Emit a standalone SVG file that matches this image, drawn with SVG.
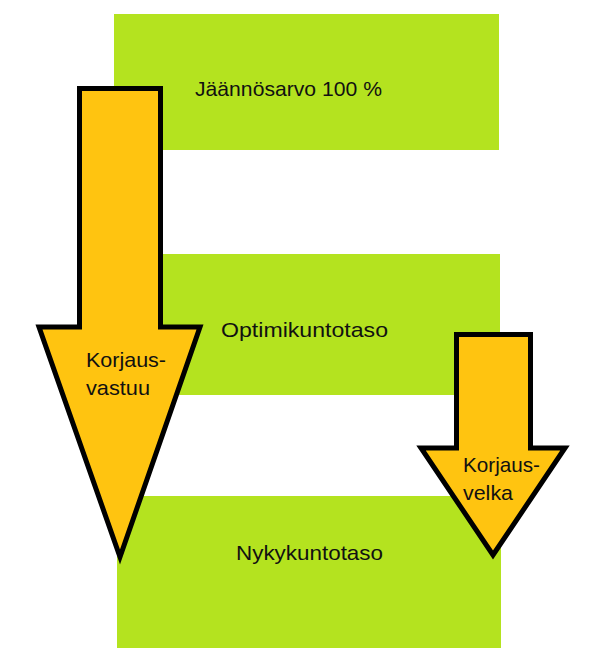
<svg xmlns="http://www.w3.org/2000/svg" width="604" height="659" viewBox="0 0 604 659">
<style>
.lvl{fill:#b4e31f}
.arr{fill:#ffc410;stroke:#000;stroke-width:5;stroke-linejoin:miter}
text{font-family:"Liberation Sans",Arial,sans-serif;font-size:21px;fill:#111}
</style>
<rect width="604" height="659" fill="#fff"/>
<g id="jaannosarvo"><rect class="lvl" x="114" y="14" width="385" height="136"/><text x="195" y="96" textLength="187" lengthAdjust="spacingAndGlyphs">Jäännösarvo 100 %</text></g>
<g id="optimikuntotaso"><rect class="lvl" x="115" y="254" width="385" height="141"/><text x="221" y="337" textLength="167" lengthAdjust="spacingAndGlyphs">Optimikuntotaso</text></g>
<g id="nykykuntotaso"><rect class="lvl" x="117" y="496" width="384" height="152"/><text x="236" y="560" textLength="147" lengthAdjust="spacingAndGlyphs">Nykykuntotaso</text></g>
<g id="connectors">
<g id="korjausvastuu"><polygon class="arr" points="79.5,88.5 160.5,88.5 160.5,327 200,327 120,557 39,327 79.5,327"/><text x="86" y="367" textLength="80" lengthAdjust="spacingAndGlyphs">Korjaus-</text><text x="86" y="395" textLength="64" lengthAdjust="spacingAndGlyphs">vastuu</text></g>
<g id="korjausvelka"><polygon class="arr" points="456.5,334.5 530.5,334.5 530.5,448 565,448 493,555 421,448 456.5,448"/><text x="463" y="472" textLength="77" lengthAdjust="spacingAndGlyphs">Korjaus-</text><text x="463" y="500" textLength="50" lengthAdjust="spacingAndGlyphs">velka</text></g>
</g>
</svg>
